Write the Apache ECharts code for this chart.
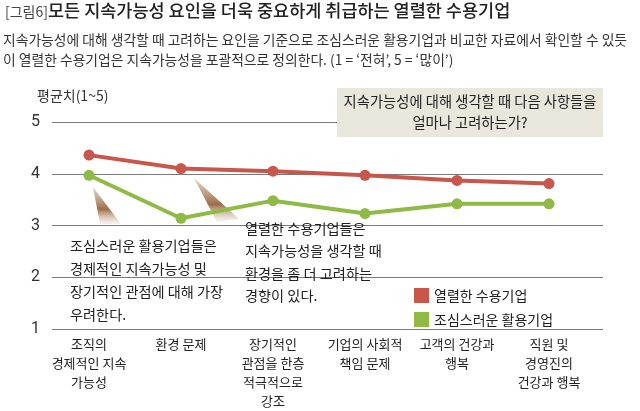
<!DOCTYPE html>
<html><head><meta charset="utf-8">
<script src="https://cdn.jsdelivr.net/npm/echarts@6/dist/echarts.min.js"></script>
<style>html,body{margin:0;padding:0;background:#fff}#c{width:640px;height:411px}</style>
</head><body><div id="c"></div>
<script>
const categories = ['조직의\n경제적인 지속\n가능성', '환경 문제', '장기적인\n관점을 한층\n적극적으로\n강조', '기업의 사회적\n책임 문제', '고객의 건강과\n행복', '직원 및\n경영진의\n건강과 행복'];
const seriesNames = ['열렬한 수용기업', '조심스러운 활용기업'];
const enthusiasts = [4.36, 4.10, 4.05, 3.97, 3.87, 3.81];
const cautious = [3.97, 3.14, 3.48, 3.23, 3.42, 3.42];
const yTicks = [1, 2, 3, 4, 5];
const colors = ['#c8564b', '#8fba45'];
const FONT = '"Noto Sans CJK KR", sans-serif';

const chart = echarts.init(document.getElementById('c'), null, {renderer: 'canvas'});
const wedgeFill = {type: 'linear', x: 0, y: 0, x2: 0, y2: 1, colorStops: [
  {offset: 0, color: 'rgba(200,165,135,0.5)'},
  {offset: 0.6, color: 'rgba(150,100,62,0.95)'},
  {offset: 1, color: 'rgba(225,205,185,0.25)'}]};
chart.setOption({
  animation: false,
  textStyle: {fontFamily: FONT},
  grid: [
    {left: 52, right: 37, top: 122, bottom: 82},
    {left: 89, right: 91, top: 122, bottom: 82}
  ],
  xAxis: [
    {gridIndex: 0, type: 'value', show: false, min: 0, max: 1},
    {gridIndex: 1, type: 'category', data: categories, boundaryGap: false,
     axisLine: {show: false}, axisTick: {show: false},
     axisLabel: {interval: 0, color: '#222', fontSize: 13, lineHeight: 19, margin: 6, fontFamily: FONT}}
  ],
  yAxis: [
    {gridIndex: 0, type: 'value', min: yTicks[0], max: yTicks[yTicks.length-1], interval: 1,
     axisLine: {show: false}, axisTick: {show: false},
     axisLabel: {color: '#333', fontSize: 16, margin: 12, fontFamily: '"Liberation Sans Narrow", "Roboto", sans-serif'},
     splitLine: {lineStyle: {color: '#7a7a7a', width: 1.2}}},
    {gridIndex: 1, type: 'value', min: 1, max: 5, show: false, splitLine: {show: false}}
  ],
  legend: {
    left: 409, top: 283, orient: 'vertical', itemWidth: 15, itemHeight: 15, itemGap: 9,
    icon: 'rect', textStyle: {fontSize: 14, color: '#222', fontFamily: FONT},
    data: seriesNames
  },
  series: [
    {name: seriesNames[0], type: 'line', xAxisIndex: 1, yAxisIndex: 1, data: enthusiasts, z: 5,
     symbol: 'circle', symbolSize: 11, color: colors[0], lineStyle: {width: 4, color: colors[0]}, itemStyle: {color: colors[0]}},
    {name: seriesNames[1], type: 'line', xAxisIndex: 1, yAxisIndex: 1, data: cautious, z: 4,
     symbol: 'circle', symbolSize: 11, color: colors[1], lineStyle: {width: 4, color: colors[1]}, itemStyle: {color: colors[1]}}
  ],
  graphic: [
    {type: 'polygon', z: 1, shape: {points: [[93, 187], [100, 224], [121, 224]]}, style: {fill: wedgeFill}},
    {type: 'polygon', z: 1, shape: {points: [[194, 178], [217, 222], [239, 219]]}, style: {fill: wedgeFill}},
    {type: 'text', left: 5, top: 5, style: {text: '[그림6]', font: '14px ' + FONT, fill: '#444'}},
    {type: 'text', left: 48, top: 2, style: {text: '모든 지속가능성 요인을 더욱 중요하게 취급하는 열렬한 수용기업', font: '500 17.5px ' + FONT, fill: '#222'}},
    {type: 'text', left: 3, top: 30, style: {text: '지속가능성에 대해 생각할 때 고려하는 요인을 기준으로 조심스러운 활용기업과 비교한 자료에서 확인할 수 있듯\n이 열렬한 수용기업은 지속가능성을 포괄적으로 정의한다. (1 = ‘전혀’, 5 = ‘많이’)', font: '13.8px ' + FONT, fill: '#333', lineHeight: 20}},
    {type: 'text', left: 37, top: 89, style: {text: '평균치(1~5)', font: '14px ' + FONT, fill: '#333'}},
    {type: 'rect', z: 2, shape: {x: 337, y: 88, width: 266, height: 49}, style: {fill: '#e9e6dc'}},
    {type: 'text', z: 3, style: {x: 470, y: 91, text: '지속가능성에 대해 생각할 때 다음 사항들을\n얼마나 고려하는가?', font: '14.3px ' + FONT, fill: '#222', align: 'center', lineHeight: 21}},
    {type: 'text', z: 3, left: 70, top: 234, style: {text: '조심스러운 활용기업들은\n경제적인 지속가능성 및\n장기적인 관점에 대해 가장\n우려한다.', font: '14.2px ' + FONT, fill: '#222', lineHeight: 23}},
    {type: 'text', z: 3, left: 245, top: 217, style: {text: '열렬한 수용기업들은\n지속가능성을 생각할 때\n환경을 좀 더 고려하는\n경향이 있다.', font: '14.2px ' + FONT, fill: '#222', lineHeight: 22.5}}
  ]
});
</script></body></html>
